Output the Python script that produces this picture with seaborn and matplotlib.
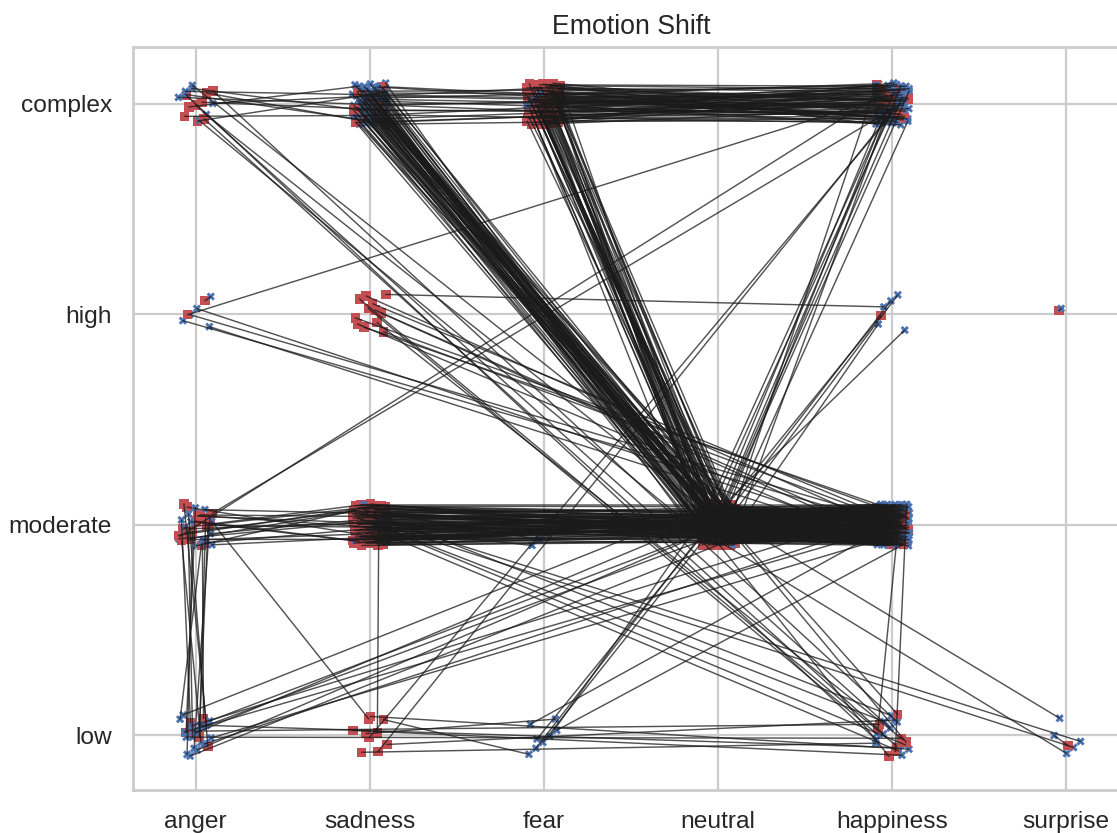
import numpy as np
import pandas as pd
import matplotlib.pyplot as plt
import seaborn as sns

emotions = ["anger", "sadness", "fear", "neutral", "happiness", "surprise"]
levels = ["low", "moderate", "high", "complex"]

# one entry per observed shift: start emotion/level -> end emotion/level, and how many cases
src_emotion = ["neutral", "sadness", "neutral", "fear", "fear", "sadness", "happiness", "anger",
               "fear", "neutral", "anger", "anger", "sadness", "anger", "anger", "happiness",
               "anger", "anger", "sadness", "sadness", "sadness", "neutral", "happiness", "neutral",
               "happiness", "sadness", "happiness", "sadness", "neutral", "happiness", "neutral", "sadness",
               "surprise", "surprise", "neutral", "sadness", "anger", "sadness", "happiness", "happiness",
               "sadness", "sadness", "sadness", "sadness", "anger", "happiness"]
src_level = ["moderate", "moderate", "moderate", "complex", "complex", "complex", "complex", "complex",
             "complex", "moderate", "complex", "moderate", "moderate", "moderate", "low", "moderate",
             "high", "high", "high", "high", "high", "moderate", "high", "moderate",
             "moderate", "low", "low", "low", "moderate", "moderate", "moderate", "moderate",
             "low", "high", "moderate", "low", "moderate", "moderate", "low", "low",
             "moderate", "low", "low", "complex", "moderate", "complex"]
dst_emotion = ["happiness", "happiness", "sadness", "neutral", "happiness", "happiness", "sadness", "sadness",
               "anger", "anger", "happiness", "sadness", "anger", "anger", "anger", "anger",
               "happiness", "anger", "happiness", "happiness", "happiness", "happiness", "fear", "anger",
               "anger", "happiness", "anger", "fear", "fear", "fear", "surprise", "surprise",
               "surprise", "surprise", "happiness", "happiness", "happiness", "happiness", "sadness", "happiness",
               "fear", "sadness", "anger", "anger", "happiness", "fear"]
dst_level = ["moderate", "moderate", "complex", "moderate", "complex", "complex", "complex", "complex",
             "complex", "complex", "low", "moderate", "moderate", "low", "moderate", "high",
             "complex", "high", "moderate", "low", "high", "high", "low", "low",
             "low", "low", "low", "low", "low", "low", "low", "low",
             "low", "high", "complex", "complex", "complex", "low", "complex", "moderate",
             "moderate", "moderate", "moderate", "complex", "moderate", "complex"]
n_cases = [110, 90, 60, 40, 50, 10, 8, 5,
           3, 3, 4, 8, 10, 7, 5, 4,
           1, 1, 8, 3, 1, 4, 1, 6,
           4, 4, 3, 2, 3, 2, 2, 2,
           1, 1, 10, 2, 2, 4, 3, 2,
           3, 1, 1, 2, 3, 3]

red = sns.color_palette("deep")[3]
blue = sns.color_palette("deep")[0]


def halton(n, base):
    f, r = 1.0, 0.0
    while n > 0:
        f /= base
        r += f * (n % base)
        n //= base
    return r


def spread(n, base, width):
    # evenly scattered offsets so stacked cases stay visible
    return (halton(n, base) - 0.5) * 2 * width


points = []
k = 0
for se, sl, de, dl, n in zip(src_emotion, src_level, dst_emotion, dst_level, n_cases):
    for _ in range(n):
        for role, e, l, bx, by in (("start", se, sl, 2, 3), ("end", de, dl, 5, 7)):
            points.append({
                "pid": k,
                "role": role,
                "x": emotions.index(e) + spread(k + 1, bx, 0.1),
                "y": levels.index(l) + spread(k + 1, by, 0.1),
            })
        k += 1
pts = pd.DataFrame(points)

sns.set_theme(style="whitegrid")
plt.rcParams["font.family"] = ["Liberation Sans", "DejaVu Sans"]

fig = plt.figure(figsize=(1117 / 160, 833 / 160), dpi=160)
ax = fig.add_axes([133 / 1117, 43 / 833, 996 / 1117, 743 / 833])

sns.scatterplot(data=pts, x="x", y="y", hue="role", style="role", size="role",
                markers={"start": "s", "end": "X"}, palette={"start": red, "end": blue},
                sizes={"start": 18, "end": 14}, linewidth=0, legend=False, ax=ax, zorder=1)
sns.lineplot(data=pts, x="x", y="y", units="pid", estimator=None, sort=False,
             color="k", alpha=0.75, linewidth=0.65, legend=False, ax=ax)

ax.set_xticks(range(len(emotions)), emotions)
ax.set_yticks(range(len(levels)), levels)
ax.set_xlim(-0.36, 5.36)
ax.set_ylim(-0.26, 3.27)
ax.set_xlabel("")
ax.set_ylabel("")
ax.set_title("Emotion Shift")

fig.savefig("out.png", dpi=160)
